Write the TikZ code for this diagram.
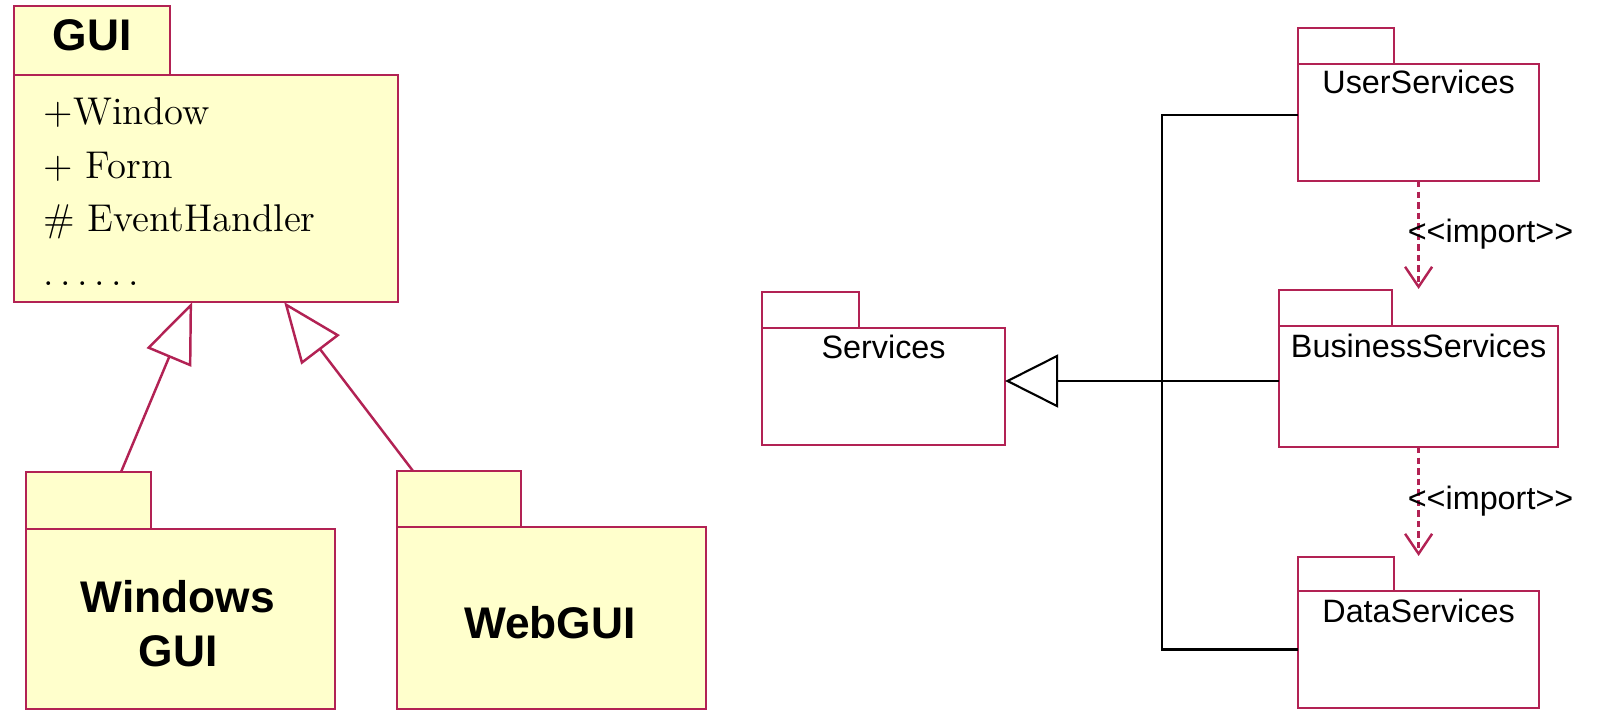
\documentclass[tikz,border=0pt]{standalone}
\usepackage{fontspec}
\newfontfamily\uisans{Liberation Sans}
\usetikzlibrary{arrows.meta}

\definecolor{pkgred}{RGB}{178,34,84}
\definecolor{pkgfill}{RGB}{255,255,204}

\begin{document}
\begin{tikzpicture}[x=0.01cm, y=-0.01cm,
    pkg/.style={draw=pkgred, line width=0.7pt, inner sep=0pt, outer sep=0pt},
    pkgbody/.style={pkg, anchor=north west},
    pkgtab/.style={pkg, anchor=south west},
    guifont/.style={font=\uisans\bfseries\fontsize{12.6}{15.4}\selectfont},
    itemfont/.style={font=\fontsize{11}{13}\selectfont, inner sep=0pt},
    svcfont/.style={font=\uisans\fontsize{9.2}{11}\selectfont, inner sep=0pt},
    inherit/.style={draw=pkgred, line width=0.7pt, -{Triangle[open, length=0.6cm, width=0.48cm]}},
    trunkline/.style={draw=black, line width=0.6pt},
    importdep/.style={draw=pkgred, line width=0.7pt, dash pattern=on 1.8pt off 1.2pt,
        -{Straight Barb[length=0.2cm, width=0.27cm]}}
]
    \useasboundingbox (0,0) rectangle (1607,721);

    % GUI package with its elements
    \node[pkgbody, fill=pkgfill, minimum width=3.84cm, minimum height=2.27cm] (gui) at (14,75) {};
    \node[pkgtab, fill=pkgfill, minimum width=1.56cm, minimum height=0.69cm] (guitab) at (gui.north west) {};
    \node[guifont, anchor=base] (guiname) at (92,50) {GUI};
    \foreach \txt [count=\k] in {+Window, + Form, \# EventHandler, .\,.\,.\,.\,.\,.} {
        \node[itemfont, anchor=base west] (guiitem\k) at (43, {71+53.5*\k}) {\txt};
    }

    % sub packages
    \node[pkgbody, fill=pkgfill, minimum width=3.09cm, minimum height=1.80cm] (wgui) at (26,529) {};
    \node[pkgtab, fill=pkgfill, minimum width=1.25cm, minimum height=0.57cm] (wguitab) at (wgui.north west) {};
    \node[guifont, align=center] (wguiname) at (178,624) {Windows\\GUI};

    \node[pkgbody, fill=pkgfill, minimum width=3.09cm, minimum height=1.82cm] (web) at (397,527) {};
    \node[pkgtab, fill=pkgfill, minimum width=1.24cm, minimum height=0.56cm] (webtab) at (web.north west) {};
    \node[guifont] (webname) at (550,623) {WebGUI};

    % generalisation arrows
    \draw[inherit] ([xshift=0.95cm]wguitab.north west) -- ([xshift=-0.14cm]gui.south);
    \draw[inherit] ([xshift=0.16cm]webtab.north west) -- ([xshift=0.78cm]gui.south);

    % service packages
    \node[pkgbody, fill=white, minimum width=2.43cm, minimum height=1.17cm] (svc) at (762,328) {};
    \node[pkgtab, fill=white, minimum width=0.97cm, minimum height=0.36cm] (svctab) at (svc.north west) {};
    \node[svcfont, anchor=base] (svcname) at ([yshift=-0.30cm]svc.north) {Services};

    \node[pkgbody, fill=white, minimum width=2.41cm, minimum height=1.17cm] (us) at (1298,64) {};
    \node[pkgtab, fill=white, minimum width=0.96cm, minimum height=0.36cm] (ustab) at (us.north west) {};
    \node[svcfont, anchor=base] (usname) at ([yshift=-0.29cm]us.north) {UserServices};

    \node[pkgbody, fill=white, minimum width=2.79cm, minimum height=1.21cm] (bs) at (1279,326) {};
    \node[pkgtab, fill=white, minimum width=1.13cm, minimum height=0.36cm] (bstab) at (bs.north west) {};
    \node[svcfont, anchor=base] (bsname) at ([yshift=-0.31cm]bs.north) {BusinessServices};

    \node[pkgbody, fill=white, minimum width=2.41cm, minimum height=1.17cm] (ds) at (1298,591) {};
    \node[pkgtab, fill=white, minimum width=0.96cm, minimum height=0.34cm] (dstab) at (ds.north west) {};
    \node[svcfont, anchor=base] (dsname) at ([yshift=-0.31cm]ds.north) {DataServices};

    % generalisation tree
    \coordinate (trunk) at (1162,381);
    \draw[trunkline] ([yshift=0.075cm]us.west) -| (trunk) |- (ds.west);
    \draw[trunkline, -{Triangle[open, length=0.53cm, width=0.53cm]}] (bs.west |- trunk) -- (svc.east |- trunk);

    % import dependencies
    \draw[importdep] (us.south) -- ([yshift=0.01cm]us.south |- bstab.north)
        node[svcfont, anchor=base west, pos=0.57, xshift=-0.12cm] (imp1) {<{}<import>{}>};
    \draw[importdep] (bs.south) -- ([yshift=0.01cm]bs.south |- dstab.north)
        node[svcfont, anchor=base west, pos=0.57, xshift=-0.12cm] (imp2) {<{}<import>{}>};

\end{tikzpicture}
\end{document}
